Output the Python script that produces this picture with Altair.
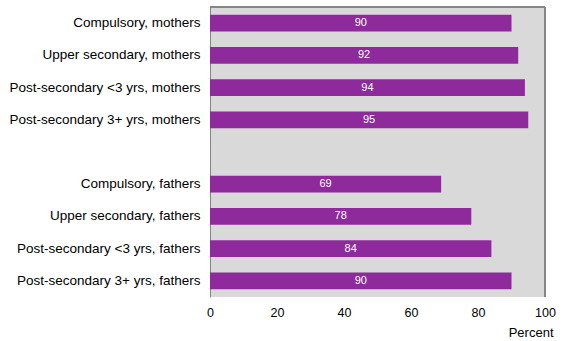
import altair as alt
import pandas as pd

categories = [
    "Compulsory, mothers",
    "Upper secondary, mothers",
    "Post-secondary <3 yrs, mothers",
    "Post-secondary 3+ yrs, mothers",
    "Compulsory, fathers",
    "Upper secondary, fathers",
    "Post-secondary <3 yrs, fathers",
    "Post-secondary 3+ yrs, fathers",
]
values = [90, 92, 94, 95, 69, 78, 84, 90]
x_ticks = [0, 20, 40, 60, 80, 100]

domain = categories[:4] + [" "] + categories[4:]

df = pd.DataFrame({"cat": categories, "val": values})

FONT = "Liberation Sans"
PURPLE = "#8E2A9B"
BORDER = "#868686"

y_enc = alt.Y(
    "cat:N",
    scale=alt.Scale(domain=domain, paddingInner=0.48, paddingOuter=0.24),
    axis=alt.Axis(
        title=None, ticks=False, labelPadding=10, labelFontSize=13.5,
        labelFont=FONT, labelColor="#000000", domain=True,
        domainColor=BORDER, labelLimit=300,
    ),
)

x_enc = alt.X(
    "val:Q",
    scale=alt.Scale(domain=[0, 100], nice=False),
    axis=alt.Axis(
        values=x_ticks, title="Percent", titleAlign="right", titleX=343,
        titleY=35, titleBaseline="middle", titleAnchor="end",
        titleFontWeight="normal", titleFontSize=13, titleFont=FONT,
        titleColor="#000000", labelFontSize=12.5, labelFont=FONT,
        labelColor="#000000", labelPadding=9, ticks=False, domain=False,
        grid=False, labelFlush=False,
    ),
)

bars = alt.Chart(df).mark_bar(color=PURPLE).encode(x=x_enc, y=y_enc)

labels = alt.Chart(df).transform_calculate(mid="datum.val / 2").mark_text(
    color="white", fontSize=11, font=FONT, baseline="middle", align="center"
).encode(
    x=alt.X("mid:Q"),
    y=alt.Y("cat:N"),
    text=alt.Text("val:Q"),
)

top_rule = alt.Chart(df).mark_rule(color=BORDER, strokeWidth=1).encode(
    x=alt.value(0), x2=alt.value(335), y=alt.value(0)
)
right_rule = alt.Chart(df).mark_rule(color=BORDER, strokeWidth=1).encode(
    x=alt.value(335), y=alt.value(0), y2=alt.value(290)
)

chart = alt.layer(bars, labels, top_rule, right_rule).properties(
    width=335,
    height=290,
    autosize=alt.AutoSizeParams(type="none"),
    padding={"left": 210, "top": 7, "right": 22, "bottom": 44},
    background="white",
).configure_view(
    fill="#D9D9D9", stroke=None
)

chart.save("out.html", embed_options={"renderer": "svg", "actions": False})
